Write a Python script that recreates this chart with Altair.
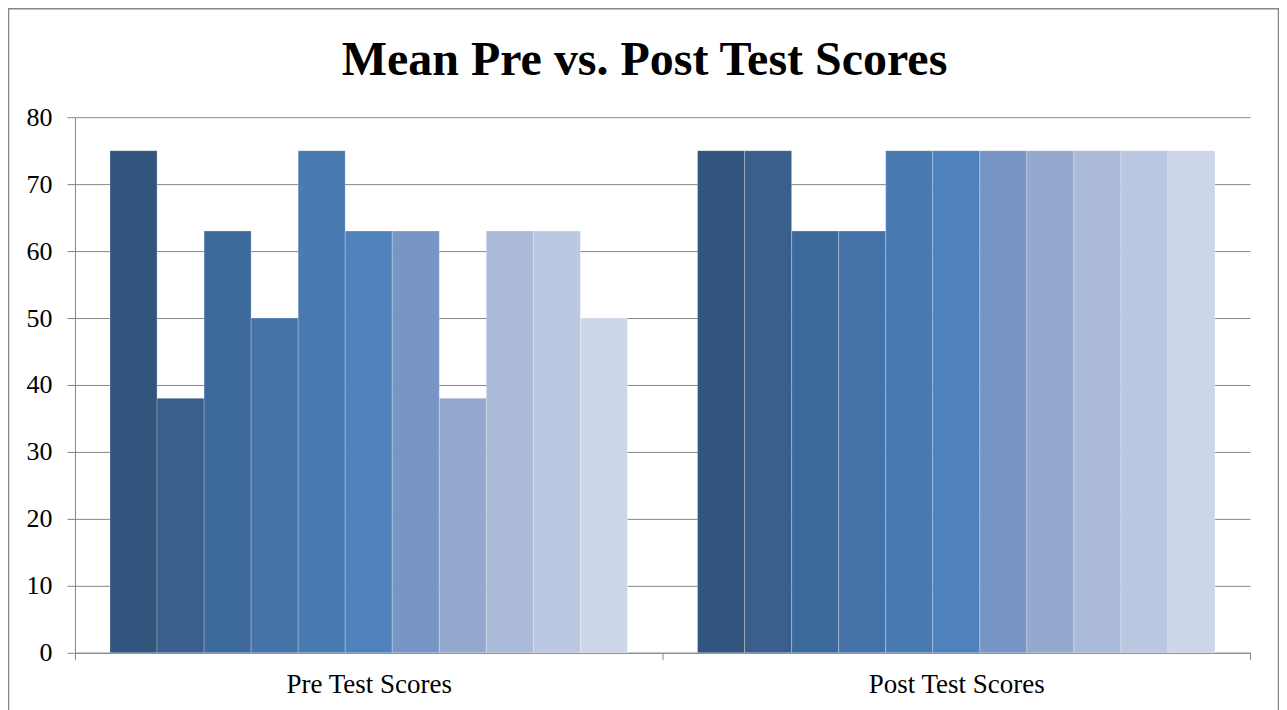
import altair as alt
import pandas as pd

groups = ["Pre Test Scores", "Post Test Scores"]
series = [f"S{i}" for i in range(1, 12)]
pre_values = [75, 38, 63, 50, 75, 63, 63, 38, 63, 63, 50]
post_values = [75, 75, 63, 63, 75, 75, 75, 75, 75, 75, 75]
colors = ["#31557c", "#3a5f8c", "#3e6a9b", "#4573a8", "#497bb2", "#4f81bd",
          "#7896c5", "#95a8d0", "#abbad8", "#bcc8e1", "#cdd6e8"]
y_ticks = [0, 10, 20, 30, 40, 50, 60, 70, 80]
title_text = ["Mean Pre vs. Post Test Scores"]

rows = []
for g, vals in zip(groups, [pre_values, post_values]):
    for s, v in zip(series, vals):
        rows.append({"group": g, "series": s, "value": v})
df = pd.DataFrame(rows)

W, H = 1176, 536
PL, PT, PR, PB = 67, 109, 29, 59
GRAY = "#868686"
FONT = "Liberation Serif"

bars = alt.Chart(df).mark_bar(stroke="#ffffff", strokeOpacity=0.25, strokeWidth=1).encode(
    x=alt.X("group:N", sort=groups, title=None,
            scale=alt.Scale(paddingInner=0, paddingOuter=0),
            axis=alt.Axis(labelAngle=0, labelFont=FONT, labelFontSize=27, labelColor="#000000",
                          labelLimit=0, tickBand="extent", tickSize=7, tickColor=GRAY,
                          domainColor=GRAY, labelPadding=12, grid=False)),
    xOffset=alt.XOffset("series:N", sort=series,
                        scale=alt.Scale(paddingInner=0, paddingOuter=0.745)),
    y=alt.Y("value:Q", title=None,
            scale=alt.Scale(domain=[0, 80], nice=False),
            axis=alt.Axis(values=y_ticks, labelFont=FONT, labelFontSize=26, labelColor="#000000",
                          tickSize=8, tickColor=GRAY, domainColor=GRAY, gridColor=GRAY,
                          labelPadding=15)),
    color=alt.Color("series:N", sort=series, legend=None,
                    scale=alt.Scale(domain=series, range=colors)),
)

border = alt.Chart(pd.DataFrame({"a": [0]})).mark_rect(
    fill=None, stroke=GRAY, strokeWidth=1.5
).encode(
    x=alt.value(-PL + 0.5), x2=alt.value(W + PR - 0.5),
    y=alt.value(-PT + 0.5), y2=alt.value(H + PB - 0.5),
)

title = alt.Chart(pd.DataFrame({"t": title_text})).mark_text(
    font=FONT, fontSize=48, fontWeight="bold", color="#000000",
    align="center", baseline="alphabetic"
).encode(
    text="t:N", x=alt.value(W / 2 - 18), y=alt.value(-42),
)

chart = alt.layer(bars, border, title).properties(
    width=W, height=H,
    padding={"left": PL, "top": PT, "right": PR, "bottom": PB},
    autosize=alt.AutoSizeParams(type="none"),
).configure_view(stroke=None).configure_axis(domainWidth=1, gridWidth=1)

chart.save("out.html", embed_options={"renderer": "svg", "actions": False})
